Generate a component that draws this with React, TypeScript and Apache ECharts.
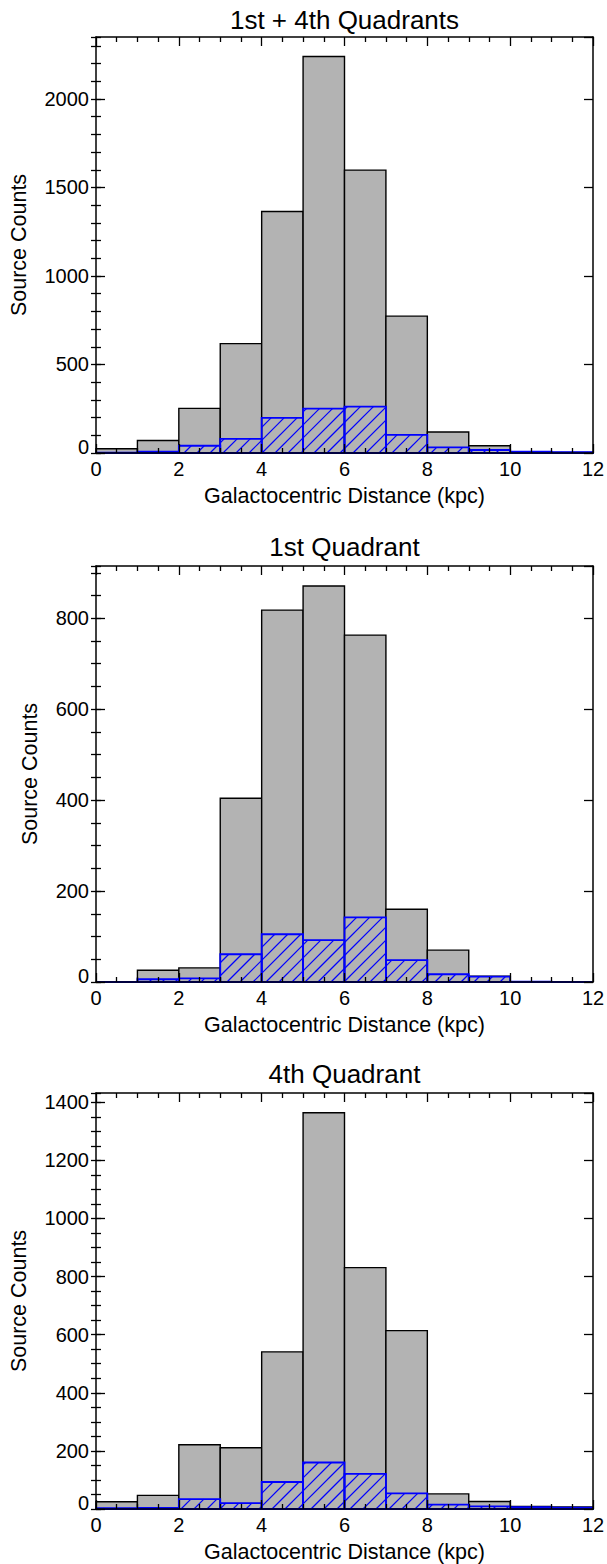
import React, { useEffect, useRef } from 'react';
import * as echarts from 'echarts';

// ---------- data ----------
const binStarts = [0, 1, 2, 3, 4, 5, 6, 7, 8, 9, 10, 11];
const binWidth = 1;

const panelTitles = ['1st + 4th Quadrants', '1st Quadrant', '4th Quadrant'];

const allQuadCounts = [24, 71, 252, 618, 1364, 2240, 1598, 773, 119, 41, 6, 3];
const allQuadHatched = [2, 7, 41, 80, 198, 251, 262, 102, 32, 17, 8, 5];

const q1Counts = [0, 26, 31, 404, 818, 871, 763, 160, 70, 13, 0, 0];
const q1Hatched = [0, 6, 8, 61, 105, 92, 142, 48, 17, 12, 1, 0];

const q4Counts = [25, 47, 221, 211, 541, 1364, 831, 614, 52, 26, 9, 7];
const q4Hatched = [3, 4, 34, 20, 93, 160, 121, 54, 15, 9, 6, 5];

const yMaxes = [2350, 915, 1432];
const yMajorSteps = [500, 200, 200];
const yMinorSteps = [100, 50, 50];
const xMin = 0;
const xMax = 12;
const xMajorStep = 2;

const xAxisName = 'Galactocentric Distance (kpc)';
const yAxisName = 'Source Counts';

// ---------- layout / style ----------
const FONT = '"Liberation Sans", Arial, Helvetica, sans-serif';
const GRID_LEFT = 96;
const GRID_WIDTH = 497;
const GRID_HEIGHT = 416;
const gridTops = [37, 566, 1093];
const titleYs = [20, 547, 1074];
const yNameGaps = [66, 55, 66];
const GREY = '#b3b3b3';
const BLUE = '#0000ff';
const HATCH_STEP = 13;

const countsByPanel = [allQuadCounts, q1Counts, q4Counts];
const hatchedByPanel = [allQuadHatched, q1Hatched, q4Hatched];

function toBins(values: number[]) {
  return binStarts.map((s, i) => [s, s + binWidth, values[i]]);
}

function greyItem(params: any, api: any) {
  const x0 = api.value(0);
  const x1 = api.value(1);
  const v = api.value(2);
  const tl = api.coord([x0, v]);
  const br = api.coord([x1, 0]);
  return {
    type: 'rect',
    shape: { x: tl[0], y: tl[1], width: br[0] - tl[0], height: br[1] - tl[1] },
    style: { fill: GREY, stroke: '#000', lineWidth: 1.4 },
  };
}

function hatchItem(params: any, api: any) {
  const x0v = api.value(0);
  const x1v = api.value(1);
  const v = api.value(2);
  const tl = api.coord([x0v, v]);
  const br = api.coord([x1v, 0]);
  const X0 = tl[0], Y0 = tl[1], X1 = br[0], Y1 = br[1];
  const children: any[] = [];
  const cMin = X0 + Y0;
  const cMax = X1 + Y1;
  const kStart = Math.ceil(cMin / HATCH_STEP);
  const kEnd = Math.floor(cMax / HATCH_STEP);
  for (let k = kStart; k <= kEnd; k++) {
    const c = k * HATCH_STEP;
    const xa = Math.max(X0, c - Y1);
    const xb = Math.min(X1, c - Y0);
    if (xb - xa > 0.3) {
      children.push({
        type: 'line',
        shape: { x1: xa, y1: c - xa, x2: xb, y2: c - xb },
        style: { stroke: BLUE, lineWidth: 1.2 },
      });
    }
  }
  children.push({
    type: 'rect',
    shape: { x: X0, y: Y0, width: X1 - X0, height: Y1 - Y0 },
    style: { fill: 'none', stroke: BLUE, lineWidth: 1.8 },
  });
  return { type: 'group', children };
}

function buildOption() {
  const grid: any[] = [];
  const xAxis: any[] = [];
  const yAxis: any[] = [];
  const series: any[] = [];
  const graphic: any[] = [];
  const tickLine = { color: '#000', width: 1.3 };
  const axisLine = { show: true, onZero: false, lineStyle: { color: '#000', width: 1.5 } };

  panelTitles.forEach((title, i) => {
    grid.push({
      left: GRID_LEFT,
      top: gridTops[i],
      width: GRID_WIDTH,
      height: GRID_HEIGHT,
      containLabel: false,
      outerBoundsMode: 'none',
    });

    const baseX = {
      type: 'value',
      gridIndex: i,
      min: xMin,
      max: xMax,
      interval: xMajorStep,
      z: 10,
      splitLine: { show: false },
      minorSplitLine: { show: false },
      axisLine,
      axisTick: { show: true, inside: true, length: 9, lineStyle: tickLine },
      minorTick: { show: true, splitNumber: 4, length: 5, lineStyle: tickLine },
    };
    xAxis.push({
      ...baseX,
      position: 'bottom',
      axisLabel: { show: true, color: '#000', fontSize: 20, fontFamily: FONT, margin: 6 },
      name: xAxisName,
      nameLocation: 'middle',
      nameGap: 32,
      nameTextStyle: { color: '#000', fontSize: 21.5, fontFamily: FONT },
    });
    xAxis.push({ ...baseX, position: 'top', axisLabel: { show: false } });

    const baseY = {
      type: 'value',
      gridIndex: i,
      min: 0,
      max: yMaxes[i],
      z: 10,
      splitLine: { show: false },
      minorSplitLine: { show: false },
    };
    // left major (labels + line)
    yAxis.push({
      ...baseY,
      position: 'left',
      interval: yMajorSteps[i],
      axisLine,
      axisTick: { show: true, inside: true, length: 9, lineStyle: tickLine },
      axisLabel: {
        show: true,
        showMaxLabel: false,
        color: '#000',
        fontSize: 20,
        fontFamily: FONT,
        margin: 7,
        formatter: (v: number) => (v === 0 ? '{z|0}' : String(v)),
        rich: { z: { fontSize: 20, fontFamily: FONT, color: '#000', padding: [0, 0, 12, 0] } },
      },
      name: yAxisName,
      nameLocation: 'middle',
      nameRotate: 90,
      nameGap: yNameGaps[i],
      nameTextStyle: { color: '#000', fontSize: 21.5, fontFamily: FONT },
    });
    // left minor
    yAxis.push({
      ...baseY,
      position: 'left',
      interval: yMinorSteps[i],
      axisLine: { show: false },
      axisTick: { show: true, inside: true, length: 5, lineStyle: tickLine },
      axisLabel: { show: false },
    });
    // right major
    yAxis.push({
      ...baseY,
      position: 'right',
      interval: yMajorSteps[i],
      axisLine,
      axisTick: { show: true, inside: true, length: 9, lineStyle: tickLine },
      axisLabel: { show: false },
    });
    // right minor
    yAxis.push({
      ...baseY,
      position: 'right',
      interval: yMinorSteps[i],
      axisLine: { show: false },
      axisTick: { show: true, inside: true, length: 5, lineStyle: tickLine },
      axisLabel: { show: false },
    });

    series.push({
      type: 'custom',
      xAxisIndex: 2 * i,
      yAxisIndex: 4 * i,
      z: 2,
      encode: { x: [0, 1], y: 2 },
      renderItem: greyItem,
      data: toBins(countsByPanel[i]),
    });
    series.push({
      type: 'custom',
      xAxisIndex: 2 * i,
      yAxisIndex: 4 * i,
      z: 3,
      encode: { x: [0, 1], y: 2 },
      renderItem: hatchItem,
      data: toBins(hatchedByPanel[i]),
    });

    graphic.push({
      type: 'text',
      x: GRID_LEFT + GRID_WIDTH / 2,
      y: titleYs[i],
      style: {
        text: title,
        fill: '#000',
        fontSize: 26,
        fontFamily: FONT,
        textAlign: 'center',
        textVerticalAlign: 'middle',
        align: 'center',
        verticalAlign: 'middle',
      },
    });
  });

  return {
    animation: false,
    backgroundColor: '#ffffff',
    grid,
    xAxis,
    yAxis,
    series,
    graphic,
  };
}

export default function App() {
  const ref = useRef<HTMLDivElement>(null);
  useEffect(() => {
    document.body.style.margin = '0';
    if (!ref.current) return;
    const chart = echarts.init(ref.current, undefined, { renderer: 'svg' });
    chart.setOption(buildOption() as any);
    return () => {
      chart.dispose();
    };
  }, []);
  return <div ref={ref} style={{ width: 607, height: 1564 }} />;
}
